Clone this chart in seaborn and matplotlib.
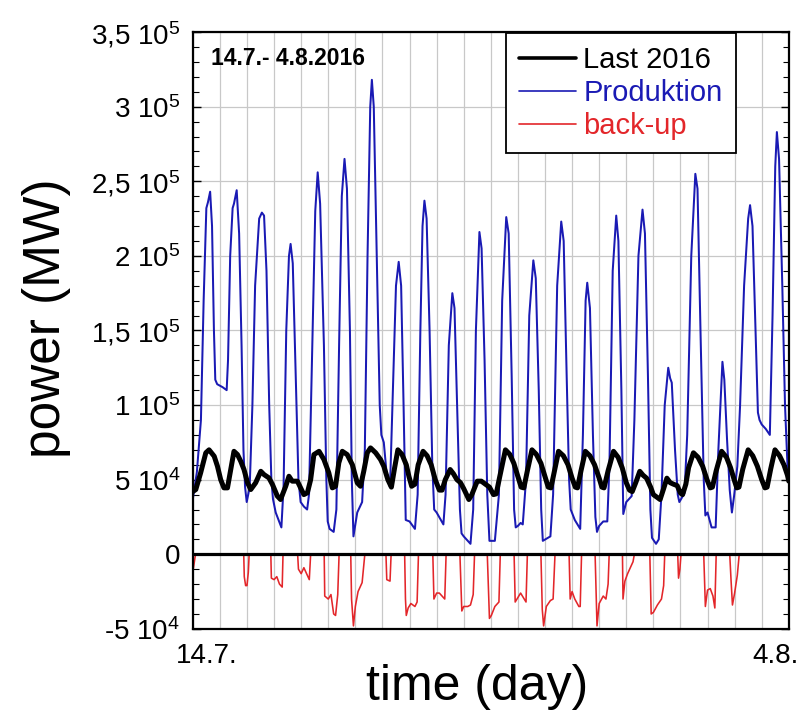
import numpy as np
import pandas as pd
import matplotlib
matplotlib.use("Agg")
import matplotlib.pyplot as plt
from matplotlib.lines import Line2D
from matplotlib.ticker import MultipleLocator
import seaborn as sns

# ---------------- data (time in days since 14.7.2016 00:00, power in 10^3 MW) -------------
last_t = [0.0, 0.11, 0.29, 0.48, 0.6, 0.79, 0.91, 1.03, 1.15, 1.28, 1.4, 1.52, 1.65, 1.77,
          1.89, 2.02, 2.14, 2.32, 2.51, 2.63, 2.81, 2.94, 3.12, 3.24, 3.43, 3.55, 3.67, 3.86,
          3.98, 4.1, 4.23, 4.35, 4.47, 4.66, 4.84, 5.02, 5.15, 5.27, 5.39, 5.52, 5.7, 5.89,
          6.07, 6.19, 6.31, 6.44, 6.56, 6.75, 6.93, 7.05, 7.2, 7.33, 7.45, 7.57,
          7.72, 7.88, 7.98, 8.08, 8.2, 8.32, 8.5,
          8.65, 8.8, 8.95, 9.1, 9.2, 9.32, 9.5,
          9.62, 9.75, 9.88, 10.0, 10.19, 10.3, 10.5,
          10.65, 10.8, 10.95, 11.1, 11.2, 11.33, 11.54,
          11.7, 11.85, 12.0, 12.12, 12.22, 12.35, 12.52,
          12.68, 12.85, 13.0, 13.12, 13.22, 13.35, 13.5,
          13.68, 13.85, 14.0, 14.12, 14.2, 14.33, 14.49,
          14.66, 14.83, 15.0, 15.1, 15.18, 15.33, 15.53,
          15.7, 15.85, 16.0, 16.12, 16.22, 16.35, 16.5,
          16.62, 16.75, 16.9, 17.0, 17.25, 17.38, 17.5,
          17.62, 17.74, 17.88, 18.0, 18.08, 18.2, 18.3, 18.48,
          18.65, 18.82, 18.98, 19.1, 19.18, 19.32, 19.52,
          19.7, 19.85, 20.0, 20.08, 20.16, 20.3, 20.5,
          20.67, 20.84, 21.0, 21.12, 21.2, 21.33, 21.49,
          21.66, 21.82, 21.95, 22.0]
last_v = [42, 43.4, 54.6, 68, 70, 65.7, 59, 50, 44.5, 44.5, 56.8, 69, 66.8, 62.3,
          56.8, 47.9, 43.4, 47.9, 55.6, 53.4, 51.2, 46.8, 39, 36.7, 45.6, 52.3, 49, 49,
          44.5, 40, 41.2, 50, 66.8, 69, 63.5, 54.6, 44.5, 45.6, 61.3, 69, 66.8, 60,
          47.9, 45.6, 55.6, 68, 71.3, 68, 63.5, 59, 50, 45, 58, 70,
          67, 60, 52, 45.6, 47, 60, 69,
          66, 60, 50, 43, 43, 50, 56.8,
          54, 50, 48, 44, 36.7, 40, 49,
          49, 47, 45, 40, 40.5, 52, 70,
          67, 61, 52, 45, 44.5, 56, 70,
          67, 61, 52, 45, 44.5, 56, 69,
          66, 60, 51, 45, 44.5, 56, 69,
          66, 60, 51, 45, 44.5, 56, 69,
          65, 58, 48, 43, 42, 48, 55.6,
          53, 51, 45, 40, 36.7, 44, 51,
          48, 47, 46, 41, 40, 47, 58, 68,
          65, 59, 50, 44.5, 45, 56, 69,
          65, 58, 49, 44.5, 45, 57, 70,
          66, 59, 50, 44.5, 45, 57, 70,
          66, 60, 53, 49]

prod_t = [0.0, 0.15, 0.3, 0.4, 0.5, 0.56, 0.64, 0.71, 0.78, 0.83, 0.9, 1.1, 1.25, 1.3, 1.38,
          1.47, 1.52, 1.62, 1.71, 1.8, 1.87, 1.93, 1.99, 2.1, 2.2, 2.3, 2.45, 2.55, 2.63,
          2.72, 2.82, 2.9, 2.96, 3.06, 3.27, 3.35, 3.45, 3.55, 3.61, 3.69, 3.8, 3.9, 3.98,
          4.1, 4.22, 4.29, 4.41, 4.52, 4.61, 4.7, 4.84, 4.93, 4.98, 5.05, 5.2, 5.3, 5.4, 5.5,
          5.6, 5.69, 5.8, 5.87, 5.93, 6.07, 6.25, 6.35, 6.45, 6.55, 6.61, 6.68, 6.8, 6.9,
          6.96, 7.05, 7.15, 7.28, 7.4, 7.5, 7.6, 7.69, 7.78, 7.86, 8.0, 8.2, 8.3, 8.4, 8.48,
          8.55, 8.63, 8.74, 8.84, 8.91, 9.0, 9.25, 9.33, 9.45, 9.58, 9.66, 9.77, 9.86, 9.92,
          10.0, 10.25, 10.35, 10.45, 10.58, 10.66, 10.77, 10.87, 10.95, 11.15, 11.3, 11.42,
          11.57, 11.66, 11.77, 11.86, 11.92, 12.0, 12.1, 12.18, 12.3, 12.42, 12.57, 12.66,
          12.77, 12.86, 12.92, 13.2, 13.3, 13.45, 13.6, 13.69, 13.8, 13.89, 13.95, 14.1,
          14.3, 14.4, 14.5, 14.56, 14.66, 14.77, 14.86, 14.92, 15.0, 15.15, 15.3, 15.38,
          15.5, 15.63, 15.71, 15.82, 15.89, 16.0, 16.2, 16.3, 16.45, 16.6, 16.69, 16.8, 16.89,
          16.95, 17.1, 17.2, 17.3, 17.42, 17.55, 17.62, 17.68, 17.8, 17.9, 17.96, 18.15,
          18.25, 18.4, 18.55, 18.63, 18.74, 18.86, 18.92, 19.0, 19.15, 19.3, 19.4, 19.55,
          19.62, 19.72, 19.82, 19.9, 19.98, 20.1, 20.2, 20.35, 20.5, 20.57, 20.66, 20.77,
          20.86, 20.92, 21.0, 21.15, 21.3, 21.4, 21.5, 21.56, 21.64, 21.76, 21.86, 21.95, 22.0]
prod_v = [37, 55, 90, 170, 232, 236, 243, 220, 150, 117, 114, 112, 110, 130, 200,
          232, 235, 244, 215, 140, 70, 45, 35, 45, 100, 180, 225, 229, 227,
          190, 100, 50, 37, 28, 18, 45, 150, 200, 208, 195, 120, 50, 35,
          32, 30, 40, 140, 230, 256, 235, 140, 50, 22, 17, 15, 30, 140, 240,
          265, 245, 150, 50, 12, 28, 35, 70, 200, 300, 318, 300, 190, 100,
          80, 75, 55, 45, 120, 180, 196, 180, 100, 23, 22, 17, 40, 150, 220,
          237, 225, 150, 60, 30, 28, 20, 40, 140, 175, 165, 90, 30, 14,
          12, 7, 30, 150, 216, 205, 130, 40, 9, 9, 40, 170,
          226, 215, 120, 30, 18, 19, 21, 20, 50, 160, 197, 185,
          110, 30, 9, 12, 40, 180, 223, 210, 120, 50, 30, 23,
          17, 80, 170, 182, 165, 80, 25, 15, 19, 22, 22, 60,
          190, 227, 210, 110, 27, 35, 39, 90, 200, 231, 215, 120, 30,
          11, 7, 10, 40, 100, 125, 118, 115, 70, 40, 35, 41,
          80, 200, 255, 245, 150, 50, 26, 28, 18, 18, 70, 129,
          117, 77, 43, 28, 39, 59, 99, 180, 225, 234, 220, 150,
          95, 90, 87, 84, 80, 160, 260, 283, 265, 180, 100, 60, 56]

backup_t = [0.0, 0.1, 1.88, 1.9, 1.95, 2.0, 2.05, 2.08, 2.88, 2.9, 3.0, 3.1, 3.2, 3.3, 3.33,
            3.87, 3.9, 4.0, 4.1, 4.2, 4.3, 4.35, 4.85, 4.87, 5.0, 5.1, 5.2, 5.27, 5.35, 5.4,
            5.83, 5.86, 5.93, 6.0, 6.1, 6.25, 6.35, 7.13, 7.16, 7.28, 7.32, 7.82, 7.85, 7.88,
            7.95, 8.05, 8.2, 8.28, 8.33, 8.86, 8.9, 9.0, 9.1, 9.2, 9.3, 9.35, 9.86, 9.93,
            10.0, 10.15, 10.25, 10.35, 10.4, 10.87, 10.95, 11.02, 11.15, 11.3, 11.35, 11.86,
            11.9, 12.0, 12.1, 12.2, 12.3, 12.35, 12.85, 12.9, 12.95, 13.05, 13.2, 13.3, 13.37,
            13.89, 13.93, 14.0, 14.1, 14.25, 14.3, 14.35, 14.85, 14.92, 15.0, 15.15, 15.25,
            15.33, 15.37, 15.86, 15.88, 15.95, 16.05, 16.15, 16.25, 16.3, 16.87, 16.92, 17.0,
            17.15, 17.3, 17.38, 17.42, 17.9, 17.93, 17.98, 18.02, 18.86, 18.92, 19.0, 19.1,
            19.2, 19.27, 19.32, 19.82, 19.87, 19.92, 20.0, 20.1, 20.17, 22.0]
backup_v = [-12, 0, 0, -15, -21, -21, -12, 0, 0, -16, -17, -15, -20, -22, 0,
            0, -10, -13, -9, -13, -17, 0, 0, -28, -30, -27, -40, -41, -27, 0,
            0, -30, -48, -35, -25, -19, 0, 0, -17, -18, 0, 0, -30, -41,
            -36, -33, -35, -32, 0, 0, -30, -26, -26, -28, -30, 0, 0, -38,
            -35, -35, -34, -27, 0, 0, -43, -41, -35, -32, 0, 0,
            -32, -29, -26, -29, -32, 0, 0, -37, -48, -35, -31, -30, 0,
            0, -30, -25, -30, -35, -35, 0, 0, -48, -33, -28, -30,
            -20, 0, 0, -30, -18, -13, -9, -5, 0, 0, -40, -39,
            -34, -30, -21, 0, 0, -16, -10, 0, 0, -35, -24, -23,
            -28, -36, 0, 0, -18, -34, -26, -14, 0, 0]

series_names = ["Last 2016", "Produktion", "back-up"]
ytick_values = [-5e4, 0, 5e4, 1e5, 1.5e5, 2e5, 2.5e5, 3e5, 3.5e5]
ytick_labels = [r"-5 $\mathregular{10^4}$", "0", r"5 $\mathregular{10^4}$",
                r"1 $\mathregular{10^5}$", r"1,5 $\mathregular{10^5}$", r"2 $\mathregular{10^5}$",
                r"2,5 $\mathregular{10^5}$", r"3 $\mathregular{10^5}$", r"3,5 $\mathregular{10^5}$"]
xtick_values = [0.5, 21.5]
xtick_labels = ["14.7.", "4.8."]
period_text = "14.7.- 4.8.2016"

# ---------------- styling ----------------
sns.set_theme(style="white")
plt.rcParams['font.family'] = ['Liberation Sans', 'DejaVu Sans']
plt.rcParams['mathtext.fontset'] = 'custom'
plt.rcParams['mathtext.rm'] = 'Liberation Sans'
plt.rcParams['mathtext.it'] = 'Liberation Sans:italic'
plt.rcParams['mathtext.bf'] = 'Liberation Sans:bold'
plt.rcParams['text.color'] = 'black'
plt.rcParams['axes.labelcolor'] = 'black'

c_last = "#000000"
c_prod = "#1a1ab4"
c_back = "#e3262a"

fig = plt.figure(figsize=(8, 7.13), dpi=100)
ax = fig.add_axes([0.241, 0.118, 0.745, 0.837])

df_last = pd.DataFrame({"t": last_t, "v": np.array(last_v) * 1e3})
df_prod = pd.DataFrame({"t": prod_t, "v": np.array(prod_v) * 1e3})
df_back = pd.DataFrame({"t": backup_t, "v": np.array(backup_v) * 1e3})

sns.lineplot(data=df_back, x="t", y="v", color=c_back, lw=1.15, ax=ax,
             estimator=None, sort=False, zorder=3)
sns.lineplot(data=df_prod, x="t", y="v", color=c_prod, lw=1.45, ax=ax,
             estimator=None, sort=False, zorder=4)
sns.lineplot(data=df_last, x="t", y="v", color=c_last, lw=3.6, ax=ax,
             estimator=None, sort=False, zorder=5)
ax.axhline(0, color="black", lw=2.3, zorder=6)

ax.set_xlim(0, 22)
ax.set_ylim(-5e4, 3.5e5)

ax.set_xticks(xtick_values)
ax.set_xticklabels(xtick_labels)
ax.xaxis.set_minor_locator(MultipleLocator(1))
ax.set_yticks(ytick_values)
ax.set_yticklabels(ytick_labels)
ax.yaxis.set_minor_locator(MultipleLocator(1e4))

ax.grid(False)
ax.grid(which="minor", axis="x", color="#c8c8c8", lw=0.9, zorder=0)
ax.grid(which="major", axis="y", color="#c8c8c8", lw=0.9, zorder=0)
ax.set_axisbelow(True)

ax.tick_params(axis="x", which="both", length=0, labelsize=20, pad=10, colors="black")
ax.tick_params(axis="y", which="major", direction="in", length=6, width=1,
               left=True, right=True, labelsize=20, pad=9, colors="black")
ax.tick_params(axis="y", which="minor", direction="in", length=4, width=0.8,
               left=True, right=True, colors="black")
for sp in ax.spines.values():
    sp.set_color("black")
    sp.set_linewidth(1.6)
    sp.set_zorder(7)

ax.set_xlabel("time (day)", fontsize=36, va="top", color="black")
ax.set_ylabel("power (MW)", fontsize=37, color="black")
ax.xaxis.set_label_coords(0.477, -0.0586)
ax.yaxis.set_label_coords(-0.205, 0.52)

ax.text(0.031, 0.956, period_text, transform=ax.transAxes, fontsize=16.5, fontweight="bold",
        va="center", ha="left", color="black", zorder=8)

handles = [Line2D([], [], color=c_last, lw=2.6),
           Line2D([], [], color=c_prod, lw=1.2),
           Line2D([], [], color=c_back, lw=1.2)]
leg = ax.legend(handles, series_names, loc="upper right", bbox_to_anchor=(0.911, 0.999),
                fontsize=21, frameon=True, fancybox=False, framealpha=1, edgecolor="black",
                handlelength=1.95, handletextpad=0.25, borderpad=0.45, labelspacing=0.17,
                borderaxespad=0)
leg.get_frame().set_linewidth(1.3)
leg.set_zorder(9)
for txt, col in zip(leg.get_texts(), [c_last, c_prod, c_back]):
    txt.set_color(col)

fig.savefig("out.png", dpi=100)
